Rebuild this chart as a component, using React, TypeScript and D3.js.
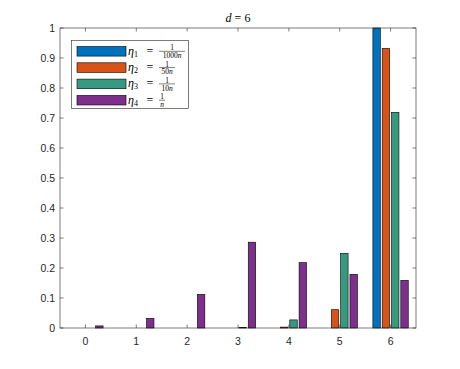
import React from 'react'
import * as d3 from 'd3'

// bar heights per group (d = 0..6), one array per eta
const groups = [0, 1, 2, 3, 4, 5, 6]
const eta1 = [0, 0, 0, 0, 0, 0, 1.0]
const eta2 = [0, 0, 0, 0, 0.003, 0.061, 0.932]
const eta3 = [0, 0, 0, 0.002, 0.027, 0.249, 0.719]
const eta4 = [0.007, 0.032, 0.112, 0.286, 0.218, 0.179, 0.159]
const seriesNames = ['eta1', 'eta2', 'eta3', 'eta4']
const colors = ['#0072BD', '#D95319', '#369A80', '#7E2F8E']
const legendDenoms = ['1000', '50', '10', '']
const yTicks = [0, 0.1, 0.2, 0.3, 0.4, 0.5, 0.6, 0.7, 0.8, 0.9, 1]

const W = 460, H = 369
const left = 60, right = 416, top = 28, bottom = 328
const axisColor = '#262626'
const tickFont = "'Liberation Sans', Arial, sans-serif"
const texFont = "'Liberation Serif', 'Times New Roman', serif"

export default function App() {
  const data = [eta1, eta2, eta3, eta4]
  const x = d3.scaleLinear().domain([-0.5, 6.5]).range([left, right])
  const y = d3.scaleLinear().domain([0, 1]).range([bottom, top])
  const s = 0.183
  const inner = d3.scaleBand().domain(seriesNames).range([-2 * s, 2 * s]).paddingInner(0.2).paddingOuter(0.1)
  const tl = 3.5

  return (
    <svg width={W} height={H} style={{ position: 'absolute', left: 0, top: 0 }}>
      <rect width={W} height={H} fill="#fff" />
      <text x={238} y={22} style={{ fontFamily: texFont, fontSize: 12 }} textAnchor="middle" fill="#000">
        <tspan fontStyle="italic">d</tspan> = 6
      </text>
      {/* bars */}
      {data.map((vals, si) =>
        vals.map((v, gi) => {
          if (v <= 0) return null
          const x0 = x(groups[gi] + inner(seriesNames[si])!)
          const x1 = x(groups[gi] + inner(seriesNames[si])! + inner.bandwidth())
          return (
            <rect key={si + '-' + gi} x={x0} y={y(v)} width={x1 - x0} height={y(0) - y(v)}
              fill={colors[si]} stroke="#000" strokeWidth={0.6} />
          )
        })
      )}
      {/* axes box */}
      <rect x={left} y={top} width={right - left} height={bottom - top} fill="none" stroke={axisColor} strokeWidth={0.6} />
      {yTicks.map(t => (
        <g key={'y' + t}>
          <line x1={left} x2={left + tl} y1={y(t)} y2={y(t)} stroke={axisColor} strokeWidth={0.6} />
          <line x1={right} x2={right - tl} y1={y(t)} y2={y(t)} stroke={axisColor} strokeWidth={0.6} />
          <text x={55} y={y(t) + 3.8} textAnchor="end" style={{ fontFamily: tickFont, fontSize: 10.5 }} fill={axisColor}>
            {String(t)}
          </text>
        </g>
      ))}
      {groups.map(g => (
        <g key={'x' + g}>
          <line x1={x(g)} x2={x(g)} y1={bottom} y2={bottom - tl} stroke={axisColor} strokeWidth={0.6} />
          <line x1={x(g)} x2={x(g)} y1={top} y2={top + tl} stroke={axisColor} strokeWidth={0.6} />
          <text x={x(g)} y={345} textAnchor="middle" style={{ fontFamily: tickFont, fontSize: 10.5 }} fill={axisColor}>
            {g}
          </text>
        </g>
      ))}
      {/* legend */}
      <rect x={71.5} y={40.5} width={117} height={68} fill="#fff" stroke={axisColor} strokeWidth={0.6} />
      {seriesNames.map((n, i) => {
        const cy = 51.3 + i * 16.3
        const dw = legendDenoms[i].length * 5 + 6
        const fc = 159 + dw / 2
        return (
          <g key={n} style={{ fontFamily: texFont }}>
            <rect x={77} y={cy - 4.8} width={49} height={9.6} fill={colors[i]} stroke="#000" strokeWidth={0.6} />
            <text x={128} y={cy + 3.5} fontSize={12} fill="#000">
              <tspan fontStyle="italic">η</tspan>
              <tspan fontSize={8} dy={2}>{i + 1}</tspan>
            </text>
            <text x={150} y={cy + 3.5} textAnchor="middle" fontSize={12} fill="#000">=</text>
            <text x={fc} y={cy - 1} textAnchor="middle" fontSize={7.5} fill="#000">1</text>
            <line x1={159} x2={159 + dw} y1={cy} y2={cy} stroke="#000" strokeWidth={0.5} />
            <text x={fc} y={cy + 6.8} textAnchor="middle" fontSize={7.5} fill="#000">
              {legendDenoms[i]}
              <tspan fontStyle="italic">n</tspan>
            </text>
          </g>
        )
      })}
    </svg>
  )
}
